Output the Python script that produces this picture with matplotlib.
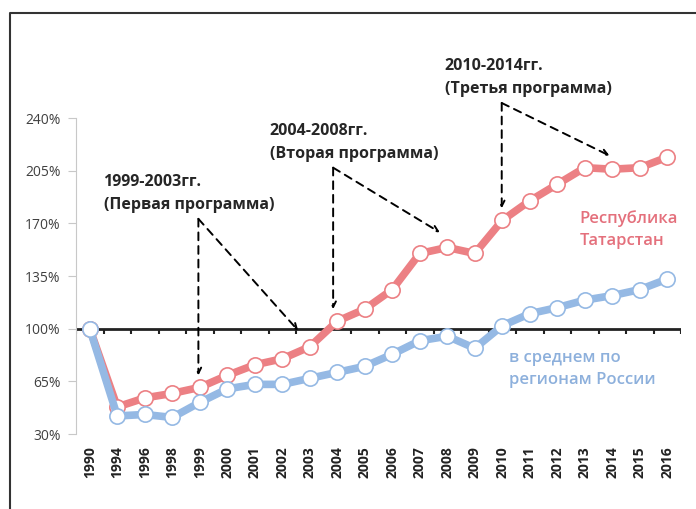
import matplotlib.pyplot as plt
from matplotlib.lines import Line2D

plt.rcParams['font.family'] = ['Open Sans', 'DejaVu Sans']

years = ['1990', '1994', '1996', '1998', '1999', '2000', '2001', '2002', '2003', '2004', '2005',
         '2006', '2007', '2008', '2009', '2010', '2011', '2012', '2013', '2014', '2015', '2016']
tatarstan = [100, 48, 54, 57, 61, 69, 76, 80, 88, 105, 113, 126, 150, 154, 150, 172,
             185, 196, 207, 206, 207, 214]
russia = [100, 42, 43, 41, 51, 60, 63, 63, 67, 71, 75, 83, 92, 95, 87, 102,
          110, 114, 119, 122, 126, 133]
yticks = [30, 65, 100, 135, 170, 205, 240]

red = '#ec8084'
blue = '#95b9e4'

fig = plt.figure(figsize=(6.96, 5.09), dpi=100)
ax = fig.add_axes([0.1092, 0.1473, 0.8693, 0.6208])
x = list(range(len(years)))

ax.plot(x, tatarstan, color=red, lw=5.5, marker='o', ms=11, mfc='white', mec=red, mew=1.2, zorder=3)
ax.plot(x, russia, color=blue, lw=5.5, marker='o', ms=11, mfc='white', mec=blue, mew=1.2, zorder=4)

# axis line at 100% with boundary ticks
ax.axhline(100, color='#222222', lw=2, zorder=2)
ax.vlines([i - 0.5 for i in range(len(years) + 1)], 96.5, 100, color='#222222', lw=1.5, zorder=2)

ax.set_xlim(-0.5, len(years) - 0.5)
ax.set_ylim(30, 240)
ax.set_yticks(yticks)
ax.set_yticklabels(['%d%%' % v for v in yticks], fontsize=10, color='#404040')
ax.set_xticks(x)
ax.set_xticklabels(years, rotation=90, fontsize=10, fontweight='bold', color='#222222')
ax.tick_params(axis='x', length=0, pad=9)
ax.tick_params(axis='y', length=6, color='#c8c8c8', pad=5)
for s in ['top', 'right', 'bottom']:
    ax.spines[s].set_visible(False)
ax.spines['left'].set_color('#c8c8c8')

arrow = dict(arrowstyle='->', linestyle=(0, (4, 3)), color='black', lw=1.4, shrinkA=0, shrinkB=0)
for apex, tips in [((3.95, 173), [(3.95, 69), (7.58, 98.7)]),
                   ((8.85, 207), [(8.85, 113), (12.73, 164)]),
                   ((14.98, 250), [(14.98, 180), (18.9, 215)])]:
    for tip in tips:
        ax.annotate('', xy=tip, xytext=apex, arrowprops=arrow, annotation_clip=False)

note = dict(fontsize=11.5, fontweight='bold', color='#262626', va='top', ha='left', linespacing=1.6)
ax.text(0.5, 203, '1999-2003гг.\n(Первая программа)', **note)
ax.text(6.55, 237, '2004-2008гг.\n(Вторая программа)', **note)
ax.text(12.91, 280, '2010-2014гг.\n(Третья программа)', clip_on=False, **note)

ax.text(17.8, 179, 'Республика\nТатарстан', fontsize=12, fontweight='semibold', color='#e4707c',
        va='top', ha='left', linespacing=1.55)
ax.text(15.25, 86, 'в среднем по\nрегионам России', fontsize=12, fontweight='semibold', color='#8db0dc',
        va='top', ha='left', linespacing=1.55)

# outer frame (left and top edges)
fig.add_artist(Line2D([10 / 696, 10 / 696, 1], [0, 1 - 13 / 509, 1 - 13 / 509],
                      transform=fig.transFigure, color='#333333', lw=1.5))

fig.savefig('out.png', dpi=100)
